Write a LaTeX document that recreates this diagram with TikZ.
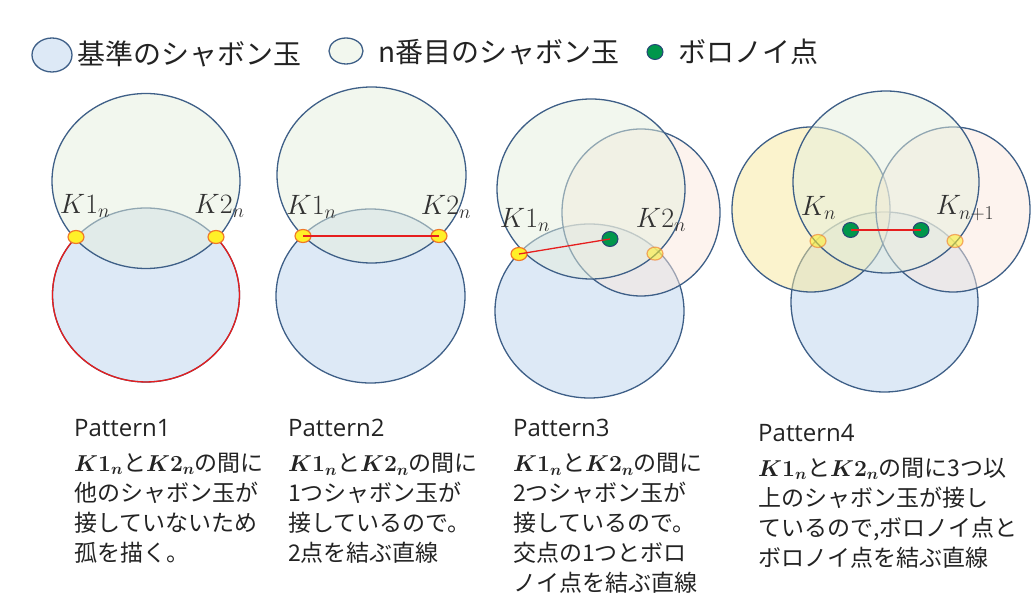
\RequirePackage{fix-cm}
\documentclass[tikz,border=0pt]{standalone}
\usepackage[no-math]{fontspec}
\newfontfamily\jpfont{Noto Sans CJK JP}
\newfontfamily\titlefont{Open Sans}
\usetikzlibrary{shapes.geometric}
\definecolor{bubbleline}{RGB}{62,95,135}
\definecolor{basefill}{RGB}{187,211,237}
\definecolor{nthfill}{RGB}{229,239,221}
\definecolor{thirdfill}{RGB}{251,231,221}
\definecolor{fourthfill}{RGB}{247,231,155}
\definecolor{kfill}{RGB}{255,240,40}
\definecolor{kline}{RGB}{240,120,40}
\definecolor{vfill}{RGB}{0,150,75}
\definecolor{vline}{RGB}{40,70,120}
\definecolor{cutline}{RGB}{230,30,30}
\definecolor{labelgray}{RGB}{50,50,50}
\definecolor{textgray}{RGB}{35,35,35}
\tikzstyle{bubble}=[draw=bubbleline, line width=1.3pt, fill opacity=0.5]
\tikzstyle{kpoint}=[ellipse, draw=kline, fill=kfill, line width=1.2pt, inner sep=0, minimum width=16pt, minimum height=13pt]
\tikzstyle{fadedk}=[kpoint, fill opacity=0.55, draw opacity=0.6]
\tikzstyle{vpoint}=[ellipse, draw=vline, fill=vfill, line width=1pt, inner sep=0, minimum width=16pt, minimum height=15pt]
\tikzstyle{redcut}=[draw=cutline, line width=1.3pt]
\tikzstyle{klabel}=[text=labelgray, inner sep=0, font=\fontsize{28}{32}\selectfont]
\tikzstyle{legendtext}=[anchor=west, inner sep=0, text=textgray, font=\jpfont\fontsize{28}{34}\selectfont]
\tikzstyle{patterntext}=[anchor=north west, align=left, inner sep=0, text=textgray,
                         font=\jpfont\fontsize{23}{30}\selectfont]
\newcommand{\ptitle}[1]{{\titlefont\fontsize{24}{30}\selectfont #1}}
\newcommand{\kk}[1]{{\boldmath$#1$}}

\begin{document}
\begin{tikzpicture}[x=1pt, y=1pt]
    \useasboundingbox (0,0) rectangle (1031,595);
    % legend
    \draw[bubble, fill=basefill] (52,540) ellipse [x radius=20, y radius=17];
    \node[legendtext] (legbase) at (77,541) {基準のシャボン玉};
    \draw[bubble, fill=nthfill] (346,544) ellipse [x radius=17, y radius=13];
    \node[legendtext] (legnth) at (378,543) {n番目のシャボン玉};
    \node[vpoint] (legv) at (655,543) {};
    \node[legendtext] (legvtext) at (678,543) {ボロノイ点};

    % Pattern1
    \draw[bubble, fill=basefill] (146,300) ellipse [x radius=93.5, y radius=87];
    \draw[redcut] (75.3,357) arc [start angle=139.1, end angle=400.9, x radius=93.5, y radius=87];
    \draw[bubble, fill=nthfill] (146,414) ellipse [x radius=94, y radius=87.5];
    \node[kpoint] (K1a) at (76,358) {};
    \node[kpoint] (K2a) at (216,358) {};
    \node[klabel] (L1a) at (85,389) {$K1_n$};
    \node[klabel] (L2a) at (219.5,389) {$K2_n$};

    % Pattern2
    \draw[bubble, fill=basefill] (370.5,299) ellipse [x radius=94.5, y radius=87];
    \draw[bubble, fill=nthfill] (371.5,420) ellipse [x radius=94.5, y radius=88];
    \node[kpoint] (K1b) at (303,359) {};
    \node[kpoint] (K2b) at (439,359) {};
    \draw[redcut] (K1b.center) -- (K2b.center);
    \node[klabel] (L1b) at (311.5,388) {$K1_n$};
    \node[klabel] (L2b) at (446,388) {$K2_n$};

    % Pattern3
    \draw[bubble, fill=basefill] (589.5,284) ellipse [x radius=94.5, y radius=87];
    \draw[bubble, fill=thirdfill] (641,382.5) ellipse [x radius=79, y radius=83.5];
    \draw[bubble, fill=nthfill] (591,406) ellipse [x radius=94, y radius=90];
    \node[kpoint] (K1c) at (519,341) {};
    \node[fadedk] (K2c) at (655,341.4) {};
    \node[vpoint] (Vc) at (610,356) {};
    \draw[redcut] (K1c.center) -- (Vc.center);
    \node[klabel] (L1c) at (525,375) {$K1_n$};
    \node[klabel] (L2c) at (661,375) {$K2_n$};

    % Pattern4
    \draw[bubble, fill=basefill] (884.5,293) ellipse [x radius=93.5, y radius=90];
    \draw[bubble, fill=fourthfill] (811,385.5) ellipse [x radius=79, y radius=82.5];
    \draw[bubble, fill=thirdfill] (953,385.5) ellipse [x radius=77, y radius=82.5];
    \draw[bubble, fill=nthfill] (886,413) ellipse [x radius=93, y radius=91];
    \node[fadedk] (K1d) at (818,354) {};
    \node[fadedk] (K2d) at (955,354) {};
    \node[vpoint] (V1d) at (850.6,365) {};
    \node[vpoint] (V2d) at (921,365) {};
    \draw[redcut] (V1d.center) -- (V2d.center);
    \node[klabel] (L1d) at (818.5,387) {$K_n$};
    \node[klabel] (L2d) at (965,387) {$K_{n+1}$};

    % captions
    \node[patterntext] (T1) at (74,176) {\ptitle{Pattern1}\\[5pt]\kk{K1_n}と\kk{K2_n}の間に\\他のシャボン玉が\\接していないため\\孤を描く。};
    \node[patterntext] (T2) at (288,176) {\ptitle{Pattern2}\\[5pt]\kk{K1_n}と\kk{K2_n}の間に\\1つシャボン玉が\\接しているので。\\2点を結ぶ直線};
    \node[patterntext] (T3) at (513,176) {\ptitle{Pattern3}\\[5pt]\kk{K1_n}と\kk{K2_n}の間に\\2つシャボン玉が\\接しているので。\\交点の1つとボロ\\ノイ点を結ぶ直線};
    \node[patterntext] (T4) at (758,171) {\ptitle{Pattern4}\\[5pt]\kk{K1_n}と\kk{K2_n}の間に3つ以\\上のシャボン玉が接し\\ているので,ボロノイ点と\\ボロノイ点を結ぶ直線};
\end{tikzpicture}
\end{document}
